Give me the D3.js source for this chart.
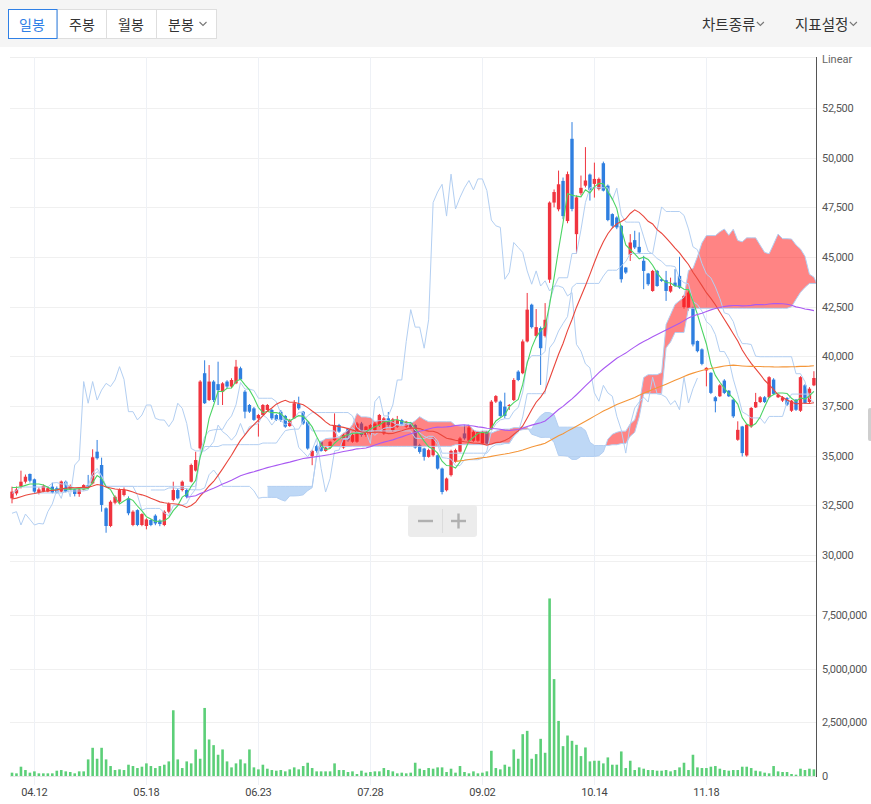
<!DOCTYPE html>
<html><head><meta charset="utf-8">
<script src="https://cdn.jsdelivr.net/npm/d3@7"></script>
<style>
body{margin:0;background:#fff;}
svg{display:block;font-family:"Noto Sans CJK KR","Noto Sans",sans-serif;}
</style></head><body>
<svg id="c" width="871" height="804"></svg>
<script>
// ---------- data ----------
const tickLabels = ["04.12","05.18","06.23","07.28","09.02","10.14","11.18"];
const tickIndex  = [5,30,55,80,105,130,155];
const priceTicks = [30000,32500,35000,37500,40000,42500,45000,47500,50000,52500];
const volTicks   = [0,2500000,5000000,7500000];

// 20 sessions before the first visible candle (used only by the indicators)
const prevClose = [32600,32400,32300,32500,32700,32500,32300,32400,32600,32800,32700,32500,32600,32900,33200,33000,33300,33500,33600,33400];
const prevHigh  = [32900,32700,32600,32800,33000,32800,32600,32700,32900,33100,33000,32800,32900,33200,33500,33300,33600,33800,33900,33700];
const prevLow   = [32300,32100,32000,32200,32400,32200,32000,32100,32300,32500,32400,32200,32300,32600,32900,32700,33000,33200,33300,33100];

const open = [32850,33100,33440,33690,34080,33810,33140,33190,33190,33440,33360,33190,33690,33300,33300,33070,33300,33520,33600,35200,
34530,32350,31460,32630,32680,33020,32850,31510,32260,31510,31460,31760,31980,31730,31510,32180,32770,33270,33270,33270,
33690,34250,35370,39150,37800,38730,38600,38220,38730,38480,38640,39400,38220,37550,37380,36880,37045,37300,37300,37045,
37210,37000,36490,36880,37600,37210,36710,34970,35480,35700,35240,35410,35780,36540,35410,36370,35700,35700,36620,36040,
36120,36290,36540,36120,36880,36290,36460,36790,36460,36660,36540,35530,35360,34940,35020,35020,34350,33260,34020,34690,
35200,36120,35750,35750,35750,35610,36200,36370,37720,37720,37470,37500,37800,39230,39150,40750,42600,41030,41420,41030,
43860,47740,47400,48830,46810,50950,46150,48210,48590,49150,48680,48420,49720,48590,47160,46990,46570,44470,45110,45850,
45510,44810,44170,43290,44300,43880,43830,43260,43710,44050,42480,42450,42450,40770,40350,39290,39170,37940,37990,38780,
38270,37820,35800,36470,35010,36470,37430,37700,37940,37940,38830,37940,37770,37900,37260,37820,37260,38540,37700,38540];
const high = [33440,33450,34245,34050,34100,33850,33400,33550,33450,33640,33450,33750,33750,33550,33350,33350,33560,34030,35320,35790,
34900,32400,32750,33000,33350,33400,32950,32250,32300,32100,31850,31800,32050,31800,32250,32650,33690,33350,33750,33350,
34600,35200,38800,39800,39560,38800,39730,38700,38800,38900,39820,39480,38300,37600,37450,37100,37600,37600,37350,37100,
37300,37050,36850,37800,37970,37250,36750,35300,35550,35750,35450,35750,37130,36600,36100,36400,36100,36700,36700,36500,
36600,36700,37100,36950,37200,36900,37000,36850,36750,36700,36600,35600,35400,35350,35950,35050,34400,33900,35300,35350,
35950,36540,36500,36300,36250,36250,36250,37800,38050,37780,38170,37600,38900,39300,40850,43190,42650,42380,41500,42680,
47800,48400,49350,49000,49300,51790,48100,49100,50530,49200,49750,49000,49800,48650,47200,47050,46600,44500,46150,46320,
46240,45060,44200,44350,44350,43950,44300,43960,44390,45010,43100,43300,42500,40800,40400,39450,39200,38000,38600,38850,
38300,37850,36730,36500,36600,37450,38160,38000,38000,39000,38900,38120,38000,37950,37800,37850,39000,38600,38450,39250];
const low = [32600,33000,33350,33600,33650,33100,33050,33150,33150,33100,33100,33150,33150,33250,32950,32930,33250,33350,33550,34800,
32180,31120,31400,32550,32600,32950,32000,31450,31450,31450,31290,31450,31500,31450,31450,32100,32700,32800,33200,32850,
33650,34200,35300,37600,37750,37700,37550,37550,38400,38400,38600,38800,36880,37150,36750,35960,37000,37250,36800,36750,
36700,36400,36450,36850,37300,36550,35300,34520,35150,35200,35200,35350,35750,36150,35350,35700,35650,35650,35950,35950,
36050,36200,36450,36050,36450,36200,36400,36500,36400,36350,35350,35100,34750,34900,34950,34300,33050,33200,33950,34650,
35150,35800,35700,35700,35700,35550,35550,36300,37650,36950,36880,37300,37750,38750,39100,40700,41400,40950,38560,40950,
43700,47500,47300,46900,46700,47300,45180,48100,48500,47840,47990,48350,48300,46800,46500,46400,43710,44150,44800,45400,
45150,43380,43550,43250,43500,43750,42790,43200,43500,43400,42400,42300,40500,40200,39550,38490,38100,37180,37950,38100,
37950,36900,35750,34960,34950,36400,37400,37650,37650,37900,38050,37900,37700,37500,37200,37250,37200,37600,37650,38500];
const close = [33190,33300,33690,33940,33740,33190,33300,33470,33360,33140,33140,33700,33190,33470,33070,33300,33520,33400,34920,34870,
32520,31460,32680,32930,33270,33270,32100,32180,31510,32060,31790,31510,31590,31560,32180,32570,33270,32850,33690,32930,
34530,34780,38730,37640,38730,37800,38300,38640,38480,38810,39480,38840,37215,37215,36800,37045,37550,37550,36880,36800,
36790,36460,36790,37640,37380,36620,35360,35240,35240,35240,35410,35700,36540,36210,36040,35780,36040,36620,36040,36460,
36540,36620,37050,36880,36540,36830,36790,36540,36710,36420,35410,35190,34940,35280,35870,34350,33170,33850,35240,35280,
35870,35870,36420,36200,36200,36200,35610,37720,38000,37000,37000,37550,38810,38810,40750,42350,41470,41470,40410,41840,
47740,48270,48660,47060,49170,47420,48000,48480,48850,48380,48930,48930,48340,46860,46570,46490,43880,44220,45730,45480,
45230,44300,43630,44300,43540,43800,43290,43540,43540,43460,43040,43210,40600,40260,39620,39420,38160,37740,38540,38160,
37990,36980,36300,35130,36560,37400,37700,37940,37700,38950,38110,38070,37940,37570,37770,37310,38950,37650,38370,38910];
const volume = [155000,124000,433000,278000,155000,216000,124000,124000,124000,124000,247000,278000,216000,186000,124000,216000,216000,773000,1314000,804000,
1314000,773000,464000,278000,309000,278000,526000,464000,371000,433000,588000,464000,371000,464000,526000,680000,3062000,773000,371000,680000,
588000,1237000,804000,3170000,1701000,1438000,990000,1237000,680000,402000,588000,773000,588000,1237000,402000,309000,526000,340000,278000,247000,
278000,216000,309000,402000,309000,464000,618000,371000,216000,216000,216000,216000,588000,278000,278000,186000,216000,93000,247000,155000,
186000,216000,216000,371000,278000,216000,124000,155000,124000,155000,618000,340000,278000,371000,340000,402000,402000,186000,340000,155000,
464000,186000,124000,216000,124000,155000,216000,1175000,371000,309000,526000,433000,1237000,804000,1948000,2103000,804000,1020000,1732000,1082000,
8271000,4514000,2566000,1391000,1886000,1639000,1453000,928000,1330000,680000,711000,711000,588000,866000,526000,526000,1144000,371000,711000,278000,
402000,340000,278000,278000,247000,247000,278000,216000,278000,402000,618000,278000,990000,402000,371000,371000,433000,464000,340000,278000,
247000,278000,278000,433000,433000,371000,247000,216000,155000,124000,464000,216000,186000,186000,93000,62000,340000,278000,340000,310000];

// ---------- layout ----------
const svg = d3.select("#c");
const L = 10, R = 816, PT = 57, PB = 556, VT = 561, VB = 776;
const N = close.length, PREV = prevClose.length;
const x = d3.scaleLinear().domain([0, N-1]).range([12, 12 + 4.48*(N-1)]);
const y = d3.scaleLinear().domain([30000, 52500]).range([555, 108]);
const yv = d3.scaleLinear().domain([0, 7500000]).range([776, 615]);

// toolbar
svg.append("rect").attr("x",0).attr("y",0).attr("width",871).attr("height",47).attr("fill","#f5f5f5");
const tb = svg.append("g");
tb.append("rect").attr("x",8.5).attr("y",9.5).attr("width",208).attr("height",29).attr("fill","#fff").attr("stroke","#dedede");
[57,106,156].forEach(v=>tb.append("line").attr("x1",v+0.5).attr("x2",v+0.5).attr("y1",10).attr("y2",38).attr("stroke","#dedede"));
tb.append("rect").attr("x",8.5).attr("y",9.5).attr("width",48.5).attr("height",29).attr("fill","none").attr("stroke","#2f80e6");
const btns = [["일봉",32,"#2f80e6"],["주봉",82,"#333"],["월봉",131,"#333"],["분봉",181,"#333"]];
btns.forEach(b=>tb.append("text").attr("x",b[1]).attr("y",29.5).attr("text-anchor","middle").attr("font-size",14).attr("fill",b[2]).text(b[0]));
function chevron(cx){ tb.append("path").attr("d",`M${cx-3.5},${22}L${cx},${25.5}L${cx+3.5},${22}`).attr("fill","none").attr("stroke","#777").attr("stroke-width",1.1); }
chevron(203);
const t1 = tb.append("text").attr("x",702).attr("y",29.5).attr("font-size",14.5).attr("fill","#333").text("차트종류");
chevron(702 + t1.node().getComputedTextLength() + 5);
const t2 = tb.append("text").attr("x",795).attr("y",29.5).attr("font-size",14.5).attr("fill","#333").text("지표설정");
chevron(Math.min(866, 795 + t2.node().getComputedTextLength() + 5));

// clips
const defs = svg.append("defs");
defs.append("clipPath").attr("id","pc").append("rect").attr("x",L).attr("y",PT).attr("width",R-L).attr("height",PB-PT);

// grids
const grid = svg.append("g");
priceTicks.forEach(p=>grid.append("line").attr("x1",L).attr("x2",R).attr("y1",Math.round(y(p))+0.5).attr("y2",Math.round(y(p))+0.5).attr("stroke","#f0f0f0"));
grid.append("line").attr("x1",L).attr("x2",R).attr("y1",PT+0.5).attr("y2",PT+0.5).attr("stroke","#eeeeee");
[2500000,5000000,7500000,10000000].forEach(v=>grid.append("line").attr("x1",L).attr("x2",R).attr("y1",Math.round(yv(v))+0.5).attr("y2",Math.round(yv(v))+0.5).attr("stroke","#f0f0f0"));
tickIndex.forEach(i=>grid.append("line").attr("x1",Math.round(x(i))+0.5).attr("x2",Math.round(x(i))+0.5).attr("y1",PT).attr("y2",785).attr("stroke","#eef1f6"));
grid.append("line").attr("x1",L).attr("x2",R).attr("y1",VB+0.5).attr("y2",VB+0.5).attr("stroke","#e6e6e6");

// ---------- indicators ----------
const allH = prevHigh.concat(high), allL = prevLow.concat(low), allC = prevClose.concat(close);
const T = allC.length;
function ma(n){ return d3.range(N).map(i=>{const t=i+PREV; return t-n+1<0?null:d3.mean(allC.slice(t-n+1,t+1));}); }
function mid(n,t){ if(t<0||t>=T||t-n+1<0) return null; const s=t-n+1; return (d3.max(allH.slice(s,t+1))+d3.min(allL.slice(s,t+1)))/2; }
const SH = 26;
const conv = d3.range(N).map(i=>mid(9,i+PREV));
const base = d3.range(N).map(i=>mid(26,i+PREV));
const spanIdx = d3.range(N+SH);
const spanA = spanIdx.map(j=>{const t=j+PREV-SH; const c=mid(9,t), b=mid(26,t); return (c==null||b==null)?null:(c+b)/2;});
const spanB = spanIdx.map(j=>mid(52,j+PREV-SH));
const lagging = d3.range(N).map(j=>j+SH<N?close[j+SH]:null);

const pg = svg.append("g").attr("clip-path","url(#pc)");

// candles
const cg = pg.append("g");
d3.range(N).forEach(i=>{
  const up = close[i]>=open[i];
  const col = up ? "#f0343f" : "#2f7fe0";
  const cx = x(i);
  cg.append("line").attr("x1",cx).attr("x2",cx).attr("y1",y(high[i])).attr("y2",y(low[i])).attr("stroke",col).attr("stroke-width",1);
  const t = y(Math.max(open[i],close[i])), b = y(Math.min(open[i],close[i]));
  cg.append("rect").attr("x",cx-1.7).attr("y",t).attr("width",3.4).attr("height",Math.max(1,b-t)).attr("fill",col);
});

// cloud (red where span A above span B, blue otherwise)
const both = spanIdx.filter(j=>spanA[j]!=null&&spanB[j]!=null);
const areaGen = (y1f, y0v) => d3.area().x(j=>x(j)).y0(y0v).y1(y1f)(both);
defs.append("clipPath").attr("id","belowB").append("path").attr("d", areaGen(j=>y(spanB[j]), PT-10));
defs.append("clipPath").attr("id","belowA").append("path").attr("d", areaGen(j=>y(spanA[j]), PT-10));
const kg = pg.append("g");
kg.append("g").attr("clip-path","url(#belowB)").append("path").attr("d", areaGen(j=>y(spanA[j]), PB+10)).attr("fill","#ff1f1f").attr("fill-opacity",0.55);
kg.append("g").attr("clip-path","url(#belowA)").append("path").attr("d", areaGen(j=>y(spanB[j]), PB+10)).attr("fill","#6ea8ea").attr("fill-opacity",0.45);

// ichimoku lines
const lineFrom = arr => d3.line().defined(j=>arr[j]!=null).x(j=>x(j)).y(j=>y(arr[j]));
const ich = pg.append("g").attr("fill","none").attr("stroke","#b3cff2").attr("stroke-width",1);
[[conv,d3.range(N)],[base,d3.range(N)],[lagging,d3.range(N)],[spanA,spanIdx],[spanB,spanIdx]].forEach(([arr,idx])=>ich.append("path").attr("d",lineFrom(arr)(idx)));

// moving averages
const mas = [[5,"#4cd464"],[20,"#e9463c"],[60,"#a95af2"],[120,"#f4963a"]];
const mg = pg.append("g").attr("fill","none").attr("stroke-width",1.1);
mas.forEach(([n,c])=>{ const m=ma(n); mg.append("path").attr("stroke",c).attr("d",lineFrom(m)(d3.range(N))); });

// volume
const vg = svg.append("g");
d3.range(N).forEach(i=>vg.append("rect").attr("x",x(i)-1.3).attr("y",yv(volume[i])).attr("width",2.6).attr("height",VB-yv(volume[i])).attr("fill","#5ccf78"));

// right axis
const ax = svg.append("g").attr("font-family","Roboto, 'Noto Sans', sans-serif").attr("font-size",11).attr("fill","#555");
ax.append("line").attr("x1",R+0.5).attr("x2",R+0.5).attr("y1",PT).attr("y2",VB+1).attr("stroke","#555");
ax.append("text").attr("x",822).attr("y",63).attr("fill","#666").text("Linear");
const fmt = d3.format(",");
priceTicks.forEach(p=>ax.append("text").attr("x",822).attr("y",y(p)+4).attr("letter-spacing",-0.3).text(fmt(p)));
volTicks.forEach(v=>ax.append("text").attr("x",822).attr("y",yv(v)+4).attr("letter-spacing",-0.3).text(fmt(v)));

// x labels
tickIndex.forEach((i,k)=>ax.append("text").attr("x",x(i)).attr("y",796).attr("text-anchor","middle").attr("fill","#444").attr("letter-spacing",-0.3).text(tickLabels[k]));

// zoom buttons
const zb = svg.append("g");
zb.append("rect").attr("x",408).attr("y",505).attr("width",69).attr("height",32).attr("rx",3).attr("fill","#ececec");
zb.append("line").attr("x1",442.5).attr("x2",442.5).attr("y1",509).attr("y2",533).attr("stroke","#dcdcdc");
zb.append("line").attr("x1",418).attr("x2",433).attr("y1",521).attr("y2",521).attr("stroke","#b0b0b0").attr("stroke-width",2.4);
zb.append("line").attr("x1",451).attr("x2",466).attr("y1",521).attr("y2",521).attr("stroke","#b0b0b0").attr("stroke-width",2.4);
zb.append("line").attr("x1",458.5).attr("x2",458.5).attr("y1",513.5).attr("y2",528.5).attr("stroke","#b0b0b0").attr("stroke-width",2.4);

// scroll handle
svg.append("rect").attr("x",868).attr("y",408).attr("width",4).attr("height",33).attr("rx",2).attr("fill","#cfcfcf");
</script>
</body></html>
